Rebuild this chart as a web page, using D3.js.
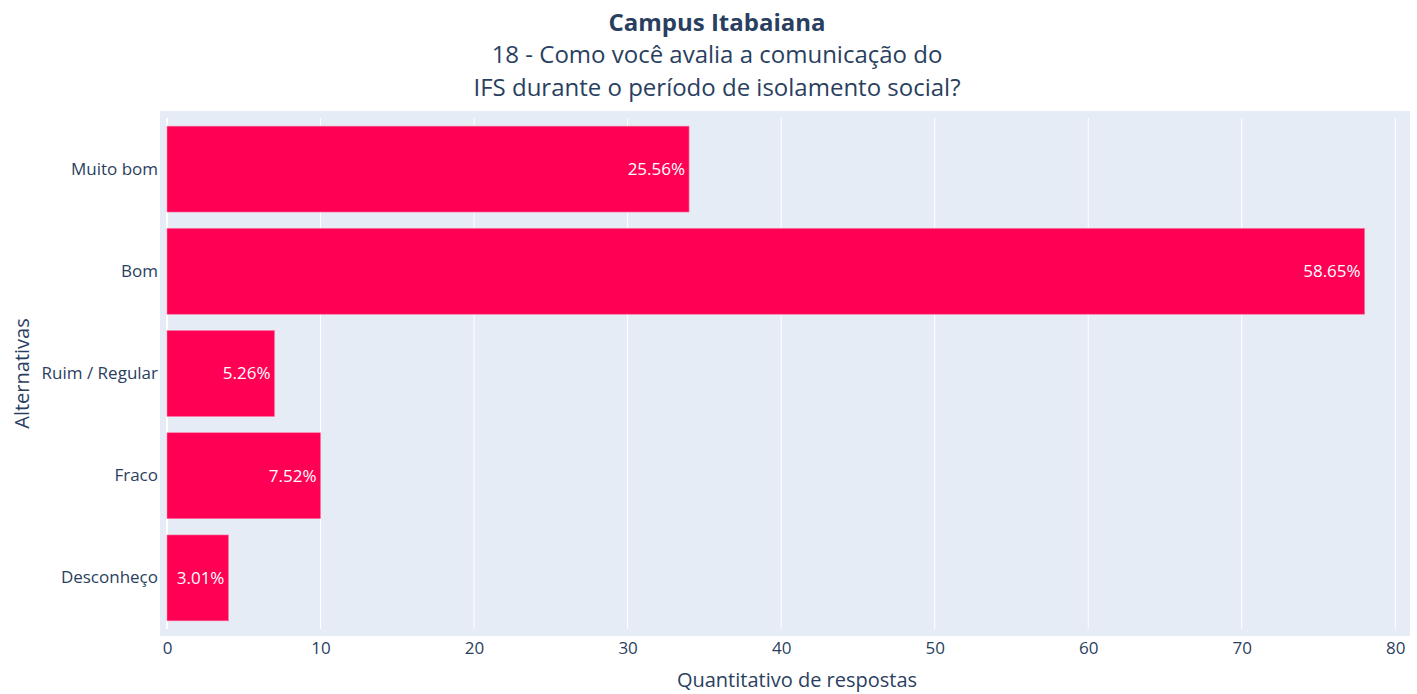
<!DOCTYPE html>
<html>
<head>
<meta charset="utf-8">
<script src="https://cdn.jsdelivr.net/npm/d3@7"></script>
<style>
  body { margin: 0; background: #fff; }
  text { font-family: "Open Sans", sans-serif; }
</style>
</head>
<body>
<svg id="chart"></svg>
<script>
// chart data
const categories = ['Muito bom', 'Bom', 'Ruim / Regular', 'Fraco', 'Desconheço'];
const counts = [34, 78, 7, 10, 4];
const percentLabels = ['25.56%', '58.65%', '5.26%', '7.52%', '3.01%'];
const xTicks = [0, 10, 20, 30, 40, 50, 60, 70, 80];
const titleLines = ['18 - Como você avalia a comunicação do', 'IFS durante o período de isolamento social?'];

const W = 1417, H = 694;
const margin = { top: 118, right: 14, bottom: 65, left: 167 };
const pad = 7;
const width = W - margin.left - margin.right;
const height = H - margin.top - margin.bottom;
const textColor = '#2a3f5f';

const svg = d3.select('#chart').attr('width', W).attr('height', H);

// Background of the plot area
svg.append('rect')
  .attr('x', margin.left - pad)
  .attr('y', margin.top - pad)
  .attr('width', width + pad * 2)
  .attr('height', height + pad * 2)
  .attr('fill', '#e5ecf6');

const g = svg.append('g')
  .attr('transform', `translate(${margin.left},${margin.top})`);

const x = d3.scaleLinear().domain([0, 80.5]).range([0, width]);
const y = d3.scaleBand().domain(categories).range([0, height]).paddingInner(0.16).paddingOuter(0.08);

// Grid lines
g.selectAll('.grid')
  .data(xTicks)
  .enter()
  .append('line')
  .attr('x1', d => x(d)).attr('x2', d => x(d))
  .attr('y1', 0).attr('y2', height)
  .attr('stroke', '#fff')
  .attr('stroke-width', d => d === 0 ? 2 : 1);

// Bars
g.selectAll('.bar')
  .data(counts)
  .enter()
  .append('rect')
  .attr('x', x(0))
  .attr('y', (d, i) => y(categories[i]))
  .attr('width', d => x(d) - x(0))
  .attr('height', y.bandwidth())
  .attr('fill', '#ff0055')
  .attr('stroke', '#ff6f9a')
  .attr('stroke-width', 0.6);

// Percent labels inside bars
g.selectAll('.value-label')
  .data(counts)
  .enter()
  .append('text')
  .attr('x', d => x(d) - 4)
  .attr('y', (d, i) => y(categories[i]) + y.bandwidth() / 2)
  .attr('dy', '0.35em')
  .attr('text-anchor', 'end')
  .attr('fill', '#fff')
  .style('font-size', '17px')
  .text((d, i) => percentLabels[i]);

// X axis
const xAxis = g.append('g')
  .attr('transform', `translate(0,${height + pad})`)
  .call(d3.axisBottom(x).tickValues(xTicks).tickSize(0).tickPadding(6));
xAxis.select('.domain').remove();
xAxis.selectAll('text')
  .attr('fill', textColor)
  .style('font-size', '17px')
  .style('font-family', '"Open Sans", sans-serif');

// Y axis
const yAxis = g.append('g')
  .attr('transform', `translate(${-pad},0)`)
  .call(d3.axisLeft(y).tickSize(0).tickPadding(2));
yAxis.select('.domain').remove();
yAxis.selectAll('text')
  .attr('fill', textColor)
  .style('font-size', '17px')
  .style('font-family', '"Open Sans", sans-serif');

// Axis titles
svg.append('text')
  .attr('x', 797)
  .attr('y', 687)
  .attr('text-anchor', 'middle')
  .attr('fill', textColor)
  .style('font-size', '20px')
  .text('Quantitativo de respostas');

svg.append('text')
  .attr('transform', `translate(29,${margin.top + height / 2}) rotate(-90)`)
  .attr('text-anchor', 'middle')
  .attr('fill', textColor)
  .style('font-size', '20px')
  .text('Alternativas');

// Title
svg.append('text')
  .attr('x', 717)
  .attr('y', 31)
  .attr('text-anchor', 'middle')
  .attr('fill', textColor)
  .style('font-size', '24px')
  .style('font-weight', 'bold')
  .text('Campus Itabaiana');

svg.selectAll('.subtitle')
  .data(titleLines)
  .enter()
  .append('text')
  .attr('x', 717)
  .attr('y', (d, i) => 63 + i * 33)
  .attr('text-anchor', 'middle')
  .attr('fill', textColor)
  .style('font-size', '24px')
  .text(d => d);
</script>
</body>
</html>
